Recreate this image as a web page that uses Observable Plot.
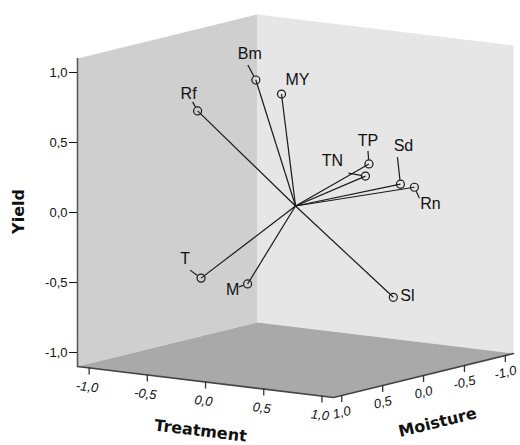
<!DOCTYPE html>
<html><head><meta charset="utf-8">
<script src="https://cdn.jsdelivr.net/npm/d3@7"></script>
<script src="https://cdn.jsdelivr.net/npm/@observablehq/plot@0.6"></script>
<style>body{margin:0;background:#fff}</style>
</head><body><div id="chart"></div>
<script>
// ---- data (loadings on the three components) ----
const variables = ["Bm", "MY", "Rf", "TP", "TN", "Sd", "Rn", "T", "M", "Sl"];
const treatment = [-0.13, 0.02, -0.56, 0.42, 0.39, 0.55, 0.67, -0.46, 0.01, 0.70];
const moisture  = [0.30, 0.20, 0.40, -0.30, -0.30, -0.50, -0.50, 0.50, 0.60, -0.20];
const yieldVals = [0.93, 0.83, 0.68, 0.30, 0.21, 0.14, 0.13, -0.49, -0.47, -0.61];
const axisTicks = [-1, -0.5, 0, 0.5, 1];
const axisTitles = ["Treatment", "Moisture", "Yield"];

// ---- layout / projection (styles, not data) ----
const LIM = 1.1;
const eT = [116.4, 14.1], eM = [-81.8, 20], PY = 140, X0 = 77;
const px = (t, m) => X0 + eT[0] * (t + LIM) + eM[0] * (m - LIM);
const pv = (t, m, y) => y - (eT[1] * (t + LIM) + eM[1] * (m - LIM)) / PY;
const offV = (v, pix) => v - pix / PY;   // shift down by pix pixels

const labelLayout = {
  Bm: {label: [-6, -26], leader: [-8, -15]},
  MY: {label: [16, -14], leader: null},
  Rf: {label: [-9, -17], leader: [-5, -9]},
  TP: {label: [-1, -23], leader: [-1, -13]},
  TN: {label: [-33, -15], leader: [-17, -3]},
  Sd: {label: [3, -38], leader: [-3, -27]},
  Rn: {label: [16, 17], leader: [5, 11]},
  T:  {label: [-16, -19], leader: [-11, -8]},
  M:  {label: [-15, 6], leader: [-9, 3]},
  Sl: {label: [14, -1], leader: null}
};

const fmt = d => d3.format(".1f")(d).replace(".", ",").replace("\u2212", "-");

const pts = variables.map((name, i) => {
  const t = treatment[i], m = moisture[i], y = yieldVals[i];
  return {name, x: px(t, m), v: pv(t, m, y)};
});
const O = {x: px(0, 0), v: pv(0, 0, 0)};

const labels = pts.map(p => {
  const L = labelLayout[p.name];
  return {name: p.name, x: p.x + L.label[0], v: offV(p.v, L.label[1])};
});
const leaders = pts.filter(p => labelLayout[p.name].leader).map(p => {
  const [lx, ly] = labelLayout[p.name].leader;
  const len = Math.hypot(lx, ly), r = 4.5;
  return {x1: p.x + lx / len * r, y1: offV(p.v, ly / len * r), x2: p.x + lx, y2: offV(p.v, ly)};
});

const poly = (corners) => corners.map(([t, m, y]) => ({x: px(t, m), v: pv(t, m, y)}));
const leftWall = poly([[-LIM, LIM, -LIM], [-LIM, -LIM, -LIM], [-LIM, -LIM, LIM], [-LIM, LIM, LIM]]);
const rightWall = poly([[-LIM, -LIM, -LIM], [LIM, -LIM, -LIM], [LIM, -LIM, LIM], [-LIM, -LIM, LIM]]);
const floor = poly([[-LIM, LIM, -LIM], [LIM, LIM, -LIM], [LIM, -LIM, -LIM], [-LIM, -LIM, -LIM]]);
const frontEdge = poly([[-LIM, LIM, -LIM], [LIM, LIM, -LIM], [LIM, -LIM, -LIM]]);
const leftEdge = poly([[-LIM, LIM, -LIM], [-LIM, LIM, LIM]]);

const tTicks = axisTicks.map(t => ({val: t, x: px(t, LIM), v: pv(t, LIM, -LIM)}));
const mTicks = axisTicks.map(m => ({val: m, x: px(LIM, m), v: pv(LIM, m, -LIM)}));
const rotT = Math.atan2(eT[1], eT[0]) * 180 / Math.PI;
const rotM = Math.atan2(-eM[1], -eM[0]) * 180 / Math.PI;

const titleT = {text: axisTitles[0], x: px(0, LIM) - 5, v: offV(pv(0, LIM, -LIM), 49)};
const titleM = {text: axisTitles[1], x: px(LIM, 0) + 14, v: offV(pv(LIM, 0, -LIM), 47)};
const titleY = {text: axisTitles[2], x: 18, v: offV(pv(-LIM, LIM, 0), -1)};

const chart = Plot.plot({
  width: 520, height: 445,
  marginLeft: 77, marginRight: 7, marginTop: 58, marginBottom: 79,
  style: {fontFamily: "'Liberation Sans', Arial, sans-serif", fontSize: "13px", background: "#fff", color: "#111"},
  x: {domain: [77, 513], axis: null},
  y: {domain: [-LIM, LIM], ticks: axisTicks, tickFormat: fmt, tickSize: 8, tickPadding: 2, label: null},
  marks: [
    Plot.line(leftWall, {x: "x", y: "v", fill: "#cfcfcf", stroke: "none"}),
    Plot.line(rightWall, {x: "x", y: "v", fill: "#e6e6e6", stroke: "none"}),
    Plot.line(floor, {x: "x", y: "v", fill: "#a9a9a9", stroke: "none"}),
    Plot.line(leftEdge, {x: "x", y: "v", stroke: "#555", strokeWidth: 1.5}),
    Plot.line(frontEdge, {x: "x", y: "v", stroke: "#444", strokeWidth: 1.5}),
    Plot.ruleX(tTicks, {x: "x", y1: "v", y2: d => offV(d.v, 7), stroke: "#333", strokeWidth: 1.3}),
    Plot.ruleX(mTicks, {x: "x", y1: "v", y2: d => offV(d.v, 7), stroke: "#333", strokeWidth: 1.3}),
    Plot.text(tTicks, {x: "x", y: "v", text: d => fmt(d.val), rotate: rotT, dy: 19, dx: -2, fontStyle: "italic", fontSize: 13, fill: "#111"}),
    Plot.text(mTicks, {x: "x", y: "v", text: d => fmt(d.val), rotate: rotM, dy: 17, dx: 0, fontStyle: "italic", fontSize: 13, fill: "#111"}),
    Plot.text([titleT], {x: "x", y: "v", text: "text", rotate: rotT, fontFamily: "'DejaVu Sans'", fontWeight: "bold", fontSize: 16, fill: "#111"}),
    Plot.text([titleM], {x: "x", y: "v", text: "text", rotate: rotM, fontFamily: "'DejaVu Sans'", fontWeight: "bold", fontSize: 16, fill: "#111"}),
    Plot.text([titleY], {x: "x", y: "v", text: "text", rotate: -90, fontFamily: "'DejaVu Sans'", fontWeight: "bold", fontSize: 16, fill: "#111"}),
    Plot.link(pts, {x1: () => O.x, y1: () => O.v, x2: "x", y2: "v", stroke: "#1a1a1a", strokeWidth: 1.2}),
    Plot.link(leaders, {x1: "x1", y1: "y1", x2: "x2", y2: "y2", stroke: "#1a1a1a", strokeWidth: 1.2}),
    Plot.dot(pts, {x: "x", y: "v", r: 4, stroke: "#1a1a1a", strokeWidth: 1.2, fill: "none"}),
    Plot.text(labels, {x: "x", y: "v", text: "name", fontSize: 16, fill: "#111"})
  ]
});
document.getElementById("chart").appendChild(chart);
</script>
</body></html>
